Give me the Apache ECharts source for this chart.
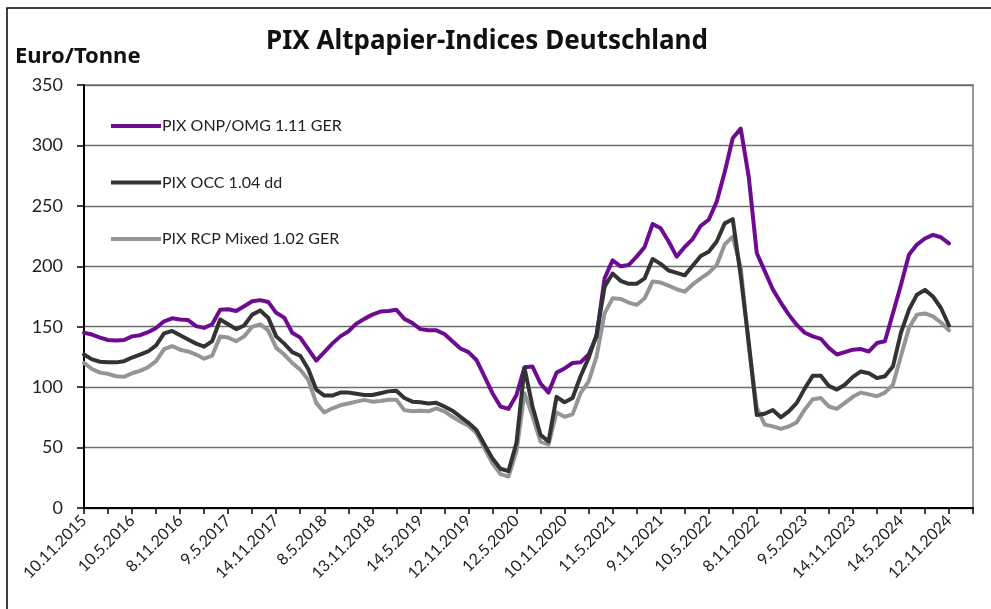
<!DOCTYPE html>
<html>
<head>
<meta charset="utf-8">
<title>PIX Altpapier-Indices Deutschland</title>
<script src="https://cdn.jsdelivr.net/npm/echarts@6/dist/echarts.min.js"></script>
<style>
  html, body { margin: 0; padding: 0; background: #fff; }
  #chart { width: 991px; height: 609px; }
</style>
</head>
<body>
<div id="chart"></div>
<script>
// Stichtage (alle 6 Monate beschriftet), Daten monatlich 11.2015 - 11.2024
var tickLabels = ['10.11.2015', '10.5.2016', '8.11.2016', '9.5.2017', '14.11.2017', '8.5.2018',
  '13.11.2018', '14.5.2019', '12.11.2019', '12.5.2020', '10.11.2020', '11.5.2021',
  '9.11.2021', '10.5.2022', '8.11.2022', '9.5.2023', '14.11.2023', '14.5.2024', '12.11.2024'];

var seriesNames = ['PIX ONP/OMG 1.11 GER', 'PIX OCC 1.04 dd', 'PIX RCP Mixed 1.02 GER'];

var onpOmg = [145, 143.5, 141, 139, 138.5, 139, 142, 143, 145.5, 149, 154.5, 157, 156, 155.5, 150.5, 149, 152, 164, 164.5, 163, 167, 171,
  172, 170.5, 161.5, 157.5, 145, 141, 131.5, 122, 129, 136, 142, 146, 152.5, 156.5, 160, 162.5, 163, 164, 156.5, 153, 148, 147,
  147, 144, 138, 132, 129, 122.5, 109, 95, 84, 82, 93.5, 116.5, 117, 103, 95.5, 112, 115.5, 120, 120.5, 127, 142, 190,
  205, 200, 201, 208, 216, 235, 231.5, 220.5, 208, 216, 222.5, 233.5, 238.5, 253.5, 278, 306, 314, 274, 211, 196, 181, 170,
  160, 151.5, 145, 142, 140, 132.5, 127, 129, 131, 131.5, 129.5, 136.5, 138, 161, 184.5, 209.5, 218, 223, 226, 224, 219];

var occ = [127, 123, 121, 120.5, 120.5, 121.5, 124.5, 127, 129.5, 134.5, 144.5, 146.5, 143, 139.5, 136, 133.5, 138, 156, 152, 148, 151, 160,
  163.5, 157.5, 142, 136, 129, 126, 115, 98, 93, 93, 95.5, 95.5, 94.5, 93.5, 93.5, 95, 96.5, 97, 91, 88, 87.5, 86.5,
  87, 84, 80.5, 75.5, 70.5, 64.5, 52.5, 41, 32.5, 30.5, 54, 116, 84, 60.5, 55, 92, 87.5, 91, 109, 124, 143.5, 183,
  194, 188, 185.5, 185.5, 190, 206, 202, 196.5, 194.5, 192.5, 200.5, 208.5, 212, 220.5, 235.5, 239, 192, 137, 77, 78, 81, 75,
  80, 87, 99, 109.5, 109.5, 101, 98, 102, 108.5, 113, 111.5, 107.5, 109, 117, 145, 164, 176.5, 180.5, 175, 165.5, 151];

var rcpMixed = [120, 115, 112, 111, 109, 108.5, 111.5, 113.5, 116.5, 121.5, 131.5, 134, 131, 129.5, 127, 123.5, 126, 142, 141, 138, 142, 150,
  152, 147, 132.5, 127, 120, 114.5, 106, 87, 79, 82.5, 85, 86.5, 88, 89.5, 88, 88.5, 89.5, 89.5, 81, 80, 80.5, 80,
  82.5, 80, 75.5, 71.5, 68, 62, 49.5, 37, 28, 26, 47, 95, 76, 55, 52.5, 79, 75.5, 77.5, 95, 104.5, 125.5, 161,
  173.5, 173, 170, 168, 173.5, 187.5, 186.5, 184, 181, 179, 185, 190, 194.5, 201, 218, 224.5, 199, 134, 83, 69, 67.5, 65.5,
  67.5, 71, 81.5, 90, 91, 84, 82, 87, 92, 95.5, 94, 92.5, 95.5, 102, 125.5, 149, 160, 161, 158.5, 153.5, 147];

// Kategorien: ein Eintrag pro Monat, Achse laeuft 3 Monate ueber das Datenende hinaus
var categories = [];
for (var i = 0; i < onpOmg.length + 3; i++) {
  categories.push(i % 6 === 0 && tickLabels[i / 6] ? tickLabels[i / 6] : '');
}

var FONT = 'Lato';
var HEAD_FONT = '"Noto Sans"';

var chart = echarts.init(document.getElementById('chart'));
var option = {
  animation: false,
  backgroundColor: '#fff',
  graphic: [
    { type: 'rect', shape: { x: 7, y: 8, width: 1000, height: 700 },
      style: { fill: 'none', stroke: '#000', lineWidth: 1.5 }, silent: true },
    { type: 'text', x: 487, y: 42,
      style: { text: 'PIX Altpapier-Indices Deutschland', fill: '#111', font: 'bold 26px ' + HEAD_FONT,
        textAlign: 'center', textVerticalAlign: 'middle' } },
    { type: 'text', x: 15, y: 57,
      style: { text: 'Euro/Tonne', fill: '#111', font: 'bold 22px ' + HEAD_FONT,
        textAlign: 'left', textVerticalAlign: 'middle' } }
  ],
  legend: {
    orient: 'vertical',
    left: 106,
    top: 111,
    itemWidth: 50,
    itemHeight: 4,
    itemGap: 36.5,
    icon: 'rect',
    data: seriesNames,
    textStyle: { fontFamily: FONT, fontSize: 16, color: '#222', lineHeight: 20, padding: [0, 0, 0, -4] }
  },
  grid: {
    left: 84, right: 18, top: 85, bottom: 101,
    show: true, borderColor: '#999', borderWidth: 2
  },
  xAxis: {
    type: 'category',
    boundaryGap: false,
    data: categories,
    axisLine: { lineStyle: { color: '#000', width: 2 } },
    axisTick: { show: true, interval: 2, length: 6, lineStyle: { color: '#000', width: 1.5 } },
    axisLabel: { interval: 5, rotate: 45, margin: 10, fontFamily: FONT, fontSize: 16, color: '#222' },
    splitLine: { show: false }
  },
  yAxis: {
    type: 'value',
    min: 0, max: 350, interval: 50,
    axisLine: { show: true, lineStyle: { color: '#000', width: 2 } },
    axisTick: { show: true, length: 7, lineStyle: { color: '#000', width: 1.5 } },
    axisLabel: { margin: 21, fontFamily: FONT, fontSize: 18, color: '#222' },
    splitLine: { lineStyle: { color: '#6e6e6e', width: 1.3 } }
  },
  series: [
    { name: seriesNames[0], type: 'line', data: onpOmg, symbol: 'none', z: 3,
      itemStyle: { color: '#6d0c90' },
      lineStyle: { color: '#6d0c90', width: 4, cap: 'round', join: 'round' } },
    { name: seriesNames[1], type: 'line', data: occ, symbol: 'none', z: 4,
      itemStyle: { color: '#333333' },
      lineStyle: { color: '#333333', width: 4, cap: 'round', join: 'round' } },
    { name: seriesNames[2], type: 'line', data: rcpMixed, symbol: 'none', z: 2,
      itemStyle: { color: '#959595' },
      lineStyle: { color: '#959595', width: 4, cap: 'round', join: 'round' } }
  ]
};
chart.setOption(option);
</script>
</body>
</html>
